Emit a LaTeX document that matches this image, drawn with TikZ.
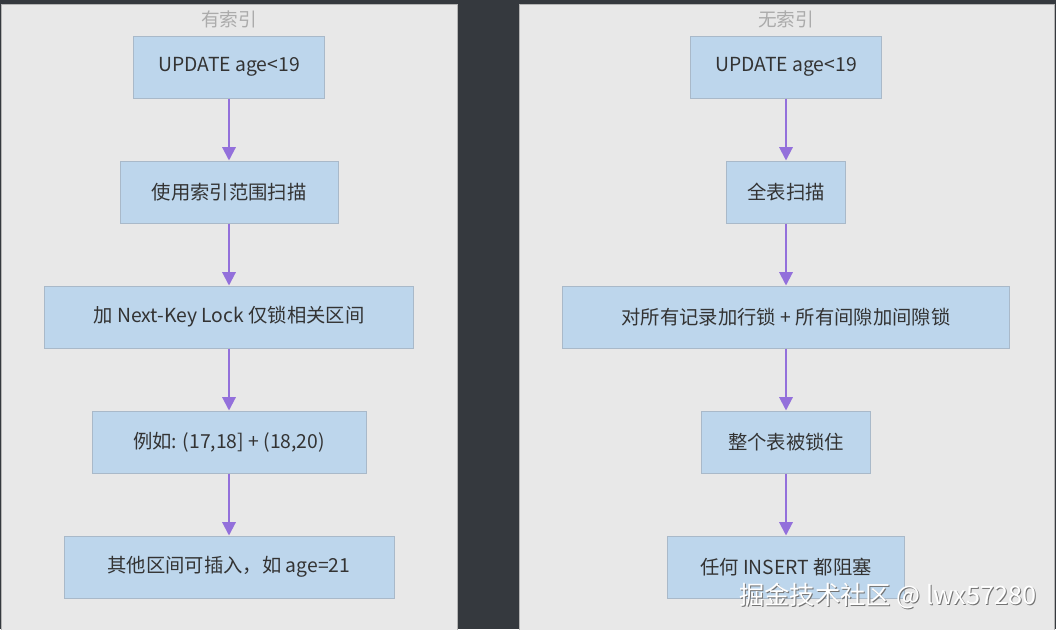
\documentclass[tikz,border=0pt]{standalone}
\usepackage{fontspec}
\setmainfont{Noto Sans CJK SC}
\usetikzlibrary{arrows.meta,positioning}

\definecolor{bgdark}{HTML}{35393E}
\definecolor{panelfill}{HTML}{E8E8E8}
\definecolor{panelline}{HTML}{B4B4B4}
\definecolor{boxfill}{HTML}{BDD6EC}
\definecolor{boxline}{HTML}{A9B9C9}
\definecolor{flowline}{HTML}{9370DB}
\definecolor{txtdark}{HTML}{333333}

\tikzset{
    flowbox/.style={draw=boxline, fill=boxfill, line width=0.75pt,
        minimum height=46.5pt, inner sep=0pt, text=txtdark,
        font=\fontsize{14.5}{17}\selectfont},
    flowarrow/.style={draw=flowline, line width=1.5pt,
        -{Triangle[length=10pt,width=10pt]}},
    paneltitle/.style={text=black!33, font=\fontsize{14}{16}\selectfont}
}

\begin{document}
\begin{tikzpicture}[x=0.75pt, y=-0.75pt, node distance=46.5pt]

% Background
\useasboundingbox (0,0) rectangle (1056,629);
\fill[bgdark] (0,0) rectangle (1056,629);

% Panels
\draw[panelline, fill=panelfill, line width=0.75pt] (1,4) rectangle (457,640);
\draw[panelline, fill=panelfill, line width=0.75pt] (519,4) rectangle (1054,640);
\node[paneltitle] (idxTitle) at (229,19) {有索引};
\node[paneltitle] (noidxTitle) at (786,19) {无索引};

% Left column
\node[flowbox, minimum width=143.25pt] (idxUpdate) at (229,67) {UPDATE age<19};
\node[flowbox, minimum width=163.5pt, below=of idxUpdate] (idxScan) {使用索引范围扫描};
\node[flowbox, minimum width=276.75pt, below=of idxScan] (idxLock) {加 Next-Key Lock 仅锁相关区间};
\node[flowbox, minimum width=205.5pt, below=of idxLock] (idxRange) {例如: (17,18] + (18,20)};
\node[flowbox, minimum width=247.5pt, below=of idxRange] (idxInsert) {其他区间可插入，如 age=21};

% Right column
\node[flowbox, minimum width=143.25pt] (noUpdate) at (786,67) {UPDATE age<19};
\node[flowbox, minimum width=89.25pt, below=of noUpdate] (noScan) {全表扫描};
\node[flowbox, minimum width=335.25pt, below=of noScan] (noLock) {对所有记录加行锁 + 所有间隙加间隙锁};
\node[flowbox, minimum width=126.75pt, below=of noLock] (noTable) {整个表被锁住};
\node[flowbox, minimum width=177.75pt, below=of noTable] (noInsert) {任何 INSERT 都阻塞};

% Arrows
\draw[flowarrow] (idxUpdate) -- (idxScan);
\draw[flowarrow] (idxScan) -- (idxLock);
\draw[flowarrow] (idxLock) -- (idxRange);
\draw[flowarrow] (idxRange) -- (idxInsert);
\draw[flowarrow] (noUpdate) -- (noScan);
\draw[flowarrow] (noScan) -- (noLock);
\draw[flowarrow] (noLock) -- (noTable);
\draw[flowarrow] (noTable) -- (noInsert);

% Watermark
\node[text=black!55, font=\fontsize{19}{21}\selectfont] (markShadow) at (889,597) {掘金技术社区 @ lwx57280};
\node[text=white, font=\fontsize{19}{21}\selectfont] (mark) at (888,596) {掘金技术社区 @ lwx57280};

\end{tikzpicture}
\end{document}
